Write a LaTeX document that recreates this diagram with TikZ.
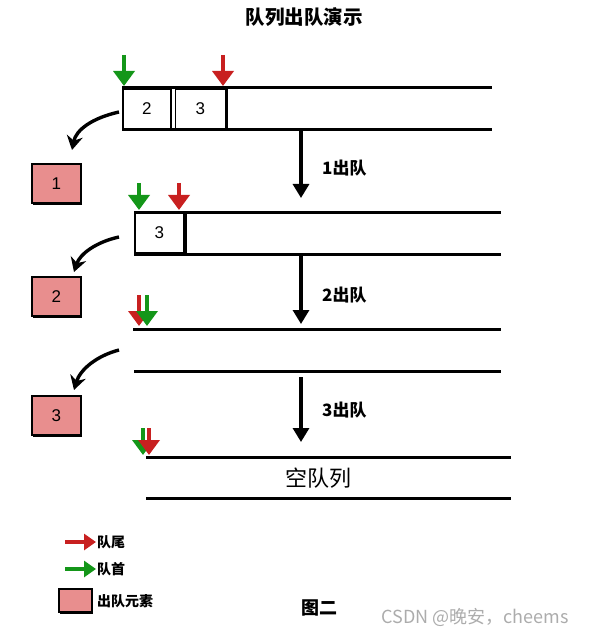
\documentclass[tikz,border=0pt]{standalone}
\usepackage{fontspec}
\setmainfont{Liberation Sans}
\newfontfamily\cjk{Noto Sans CJK SC}
\usetikzlibrary{arrows.meta, positioning, calc, shadows}
\definecolor{tailred}{RGB}{200,32,32}
\definecolor{headgreen}{RGB}{20,150,25}
\definecolor{outpink}{RGB}{232,142,142}
\tikzset{
  % queue rails and slots
  qline/.style={line width=3pt},
  elem/.style={
    rectangle, draw, fill=white, line width=1.6pt, minimum width=48pt, minimum height=40pt,
    inner sep=0pt, font=\fontsize{17}{17}\selectfont,
    drop shadow={shadow xshift=1.5pt, shadow yshift=-2pt, fill=black, opacity=1}
  },
  outbox/.style={elem, fill=outpink, minimum width=49pt, minimum height=39pt},
  % head / tail pointers (parameterized by color)
  ptr/.style={-{Triangle[length=15pt, width=21pt]}, line width=3.6pt, color=#1},
  legptr/.style={-{Triangle[length=12pt, width=16pt]}, line width=3.4pt, color=#1},
  steparrow/.style={-{Triangle[length=14pt, width=16pt]}, line width=3.2pt},
  outarrow/.style={-{Stealth[length=14pt, width=16pt]}, line width=3.4pt},
  steplabel/.style={font=\cjk\bfseries\fontsize{17}{17}\selectfont, anchor=west, inner sep=0pt},
  leglabel/.style={font=\cjk\bfseries\fontsize{14}{14}\selectfont, anchor=west, inner sep=0pt}
}
\begin{document}
\begin{tikzpicture}[x=1pt, y=-1pt]
  \useasboundingbox (0,0) rectangle (589,636);
  \node[font=\cjk\bfseries\fontsize{19.5}{19.5}\selectfont] (title) at (304,17) {队列出队演示};

  % --- Queue 1: 2 3 ---
  \draw[qline] (122,88) -- (492,88);
  \draw[qline] (122,130) -- (492,130);
  \node[elem, anchor=north west] (a2) at (122,88) {2};
  \node[elem, right=3pt of a2, minimum width=50pt] (a3) {3};
  \draw[qline] (a3.north east) -- (a3.east |- 0,130);
  \coordinate (ah) at (124,55);
  \coordinate (at) at (223,55);
  \draw[ptr=headgreen] (ah) -- (ah |- 0,86);
  \draw[ptr=tailred] (at) -- (at |- 0,86);

  % dequeue 1
  \node[outbox, anchor=north west] (o1) at (31,163) {1};
  \coordinate (c1) at (119,112);
  \draw[outarrow] (c1) .. controls (92,118) and (76,130) .. (72,150);
  \coordinate (s1) at (301,131);
  \draw[steparrow] (s1) -- (s1 |- 0,198);
  \node[steplabel] (l1) at (322,168) {1出队};

  % --- Queue 2: 3 ---
  \draw[qline] (134,212) -- (501,212);
  \draw[qline] (134,254) -- (501,254);
  \node[elem, anchor=north west, minimum width=49pt] (b3) at (134,212) {3};
  \draw[qline] (185,212) -- (185,254);
  \coordinate (bh) at (139,183);
  \coordinate (bt) at (179,183);
  \draw[ptr=headgreen] (bh) -- (bh |- 0,210);
  \draw[ptr=tailred] (bt) -- (bt |- 0,210);

  % dequeue 2
  \node[outbox, anchor=north west] (o2) at (31,276) {2};
  \coordinate (c2) at (119,237);
  \draw[outarrow] (c2) .. controls (96,242) and (80,254) .. (74,272);
  \coordinate (s2) at (301,255);
  \draw[steparrow] (s2) -- (s2 |- 0,324);
  \node[steplabel] (l2) at (322,295) {2出队};

  % --- Queue 3: empty, head and tail side by side ---
  \draw[qline] (133,329) -- (501,329);
  \draw[qline] (134,371) -- (501,371);
  \coordinate (ct) at (139,295);
  \coordinate (ch) at (147,295);
  \draw[ptr=tailred] (ct) -- (ct |- 0,326);
  \draw[ptr=headgreen] (ch) -- (ch |- 0,326);

  % dequeue 3
  \node[outbox, anchor=north west] (o3) at (31,395) {3};
  \coordinate (c3) at (119,350);
  \draw[outarrow] (c3) .. controls (96,356) and (80,370) .. (74,390);
  \coordinate (s3) at (301,377);
  \draw[steparrow] (s3) -- (s3 |- 0,442);
  \node[steplabel] (l3) at (322,410) {3出队};

  % --- Queue 4: empty queue ---
  \draw[qline] (146,457) -- (511,457);
  \draw[qline] (146,498) -- (511,498);
  \coordinate (dh) at (143,428);
  \coordinate (dt) at (149,428);
  \draw[ptr=headgreen] (dh) -- (dh |- 0,455);
  \draw[ptr=tailred] (dt) -- (dt |- 0,455);
  \node[font=\cjk\fontsize{22}{22}\selectfont] (empty) at (318,478) {空队列};

  % --- Legend ---
  \coordinate (lr) at (65,542);
  \coordinate (lg) at (65,569);
  \draw[legptr=tailred] (lr) -- ++(31,0);
  \node[leglabel] (ltail) at (97,542) {队尾};
  \draw[legptr=headgreen] (lg) -- ++(31,0);
  \node[leglabel] (lhead) at (97,569) {队首};
  \node[outbox, anchor=north west, minimum width=33pt, minimum height=23pt] (lbox) at (58,588) {};
  \node[leglabel] (lout) at (97,601) {出队元素};

  \node[font=\cjk\bfseries\fontsize{18}{18}\selectfont] (fig) at (319,608) {图二};
  \node[font=\cjk\fontsize{18}{18}\selectfont, text=gray!65] (mark) at (475,617) {CSDN @晚安，cheems};
\end{tikzpicture}
\end{document}
